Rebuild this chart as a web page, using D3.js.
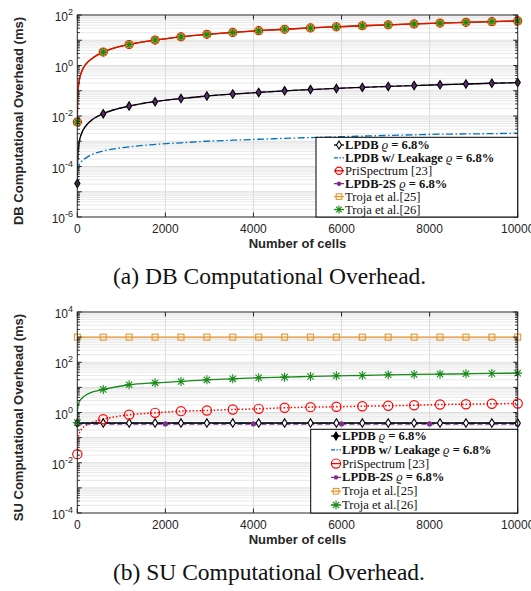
<!DOCTYPE html>
<html>
<head>
<meta charset="utf-8">
<script src="https://d3js.org/d3.v7.min.js"></script>
<style>
  body { margin: 0; background: #fff; }
  svg { display: block; }
  .tick { font-family: "Liberation Sans", Arial, sans-serif; font-size: 12px; fill: #262626; }
  .axis-title { font-family: "Liberation Sans", Arial, sans-serif; font-size: 13px; font-weight: bold; fill: #262626; }
  .caption { font-family: "Liberation Serif", "Times New Roman", serif; font-size: 23.5px; fill: #111; }
  .legend { font-family: "Liberation Serif", "Times New Roman", serif; font-size: 12.6px; fill: #111; }
</style>
</head>
<body>
<div id="chart"></div>
<script>
// x positions of the sampled points (number of cells)
const cells = [1, 5, 15, 40, 100, 200, 350, 589, 1177, 1766, 2354, 2942, 3530, 4119,
  4707, 5295, 5883, 6472, 7060, 7648, 8236, 8825, 9413, 10000];
// cells that carry a marker
const markerCells = [1, 589, 1177, 1766, 2354, 2942, 3530, 4119, 4707, 5295, 5883,
  6472, 7060, 7648, 8236, 8825, 9413, 10000];
const xTicks = [0, 2000, 4000, 6000, 8000, 10000];

// (a) DB computational overhead (ms)
const dbLPDB = [2.1e-5, 1.05e-4, 3.2e-4, 8.4e-4, 2.1e-3, 4.2e-3, 7.4e-3, 0.0124, 0.0247, 0.037,
  0.049, 0.062, 0.074, 0.086, 0.099, 0.111, 0.124, 0.136, 0.148, 0.161, 0.173, 0.185, 0.198, 0.21];
const dbLeakage = [2e-5, 5e-5, 8e-5, 1.1e-4, 1.6e-4, 2.2e-4, 3.1e-4, 4.1e-4, 6.0e-4, 7.5e-4,
  8.7e-4, 1.0e-3, 1.1e-3, 1.2e-3, 1.3e-3, 1.4e-3, 1.5e-3, 1.6e-3, 1.7e-3, 1.8e-3, 1.9e-3, 1.95e-3, 2.0e-3, 2.1e-3];
const dbPriSpectrum = [0.0058, 0.029, 0.087, 0.23, 0.58, 1.16, 2.0, 3.4, 6.8, 10.2, 13.7, 17.1,
  20.5, 23.9, 27.3, 30.7, 34.1, 37.5, 40.9, 44.4, 47.8, 51.2, 54.6, 58];
const dbLPDB2S = dbLPDB.slice();
const dbTroja25 = dbPriSpectrum.slice();
const dbTroja26 = dbPriSpectrum.slice();

// (b) SU computational overhead (ms)
const suLPDB = cells.map(() => 0.38);
const suLeakage = cells.map(() => 0.38);
const suPriSpectrum = [0.022, 0.05, 0.085, 0.14, 0.22, 0.31, 0.41, 0.54, 0.81, 0.97, 1.13, 1.20,
  1.32, 1.40, 1.54, 1.63, 1.69, 1.78, 1.85, 1.95, 2.08, 2.14, 2.22, 2.29];
const suLPDB2S = cells.map(() => 0.35);
const suTroja25 = cells.map(() => 1000);
const suTroja26 = [0.4, 1.1, 1.7, 2.5, 3.6, 5.0, 6.6, 8.3, 12.7, 15.2, 17.2, 20, 21.9, 24.1,
  25.5, 27.2, 28.9, 29.7, 31.7, 32.6, 33.6, 34.7, 35.8, 36.8];
const su2SMarkCells = [1, 2000, 4000, 6000, 8000, 10000];
const su2SMarkValues = [0.35, 0.35, 0.35, 0.35, 0.35, 0.35];

const legendNames = [
  [["LPDB", "b"], [" ϱ", "i"], [" = 6.8%", "b"]],
  [["LPDB w/ Leakage", "b"], [" ϱ", "i"], [" = 6.8%", "b"]],
  [["PriSpectrum [23]", "n"]],
  [["LPDB-2S", "b"], [" ϱ", "i"], [" = 6.8%", "b"]],
  [["Troja et al.[25]", "n"]],
  [["Troja et al.[26]", "n"]]
];

const C = {
  black: "#000000", blue: "#0072bd", red: "#ff0000", purple: "#7e2f8e",
  orange: "#e8972e", green: "#178a17", axis: "#262626"
};

const W = 531, H = 591;
const svg = d3.select("#chart").append("svg").attr("width", W).attr("height", H);

function marker(g, type, x, y, color, fill, size) {
  if (type === "diamond") {
    g.append("path")
      .attr("d", `M${x},${y - size}L${x + size * 0.62},${y}L${x},${y + size}L${x - size * 0.62},${y}Z`)
      .attr("fill", fill).attr("stroke", color).attr("stroke-width", 1.1);
  } else if (type === "circle") {
    g.append("circle").attr("cx", x).attr("cy", y).attr("r", size)
      .attr("fill", fill).attr("stroke", color).attr("stroke-width", 1.2);
  } else if (type === "square") {
    g.append("rect").attr("x", x - size).attr("y", y - size)
      .attr("width", size * 2).attr("height", size * 2)
      .attr("fill", fill).attr("stroke", color).attr("stroke-width", 1.1);
  } else if (type === "star") {
    const s = size, d = size * 0.707;
    g.append("path")
      .attr("d", `M${x - s},${y}H${x + s}M${x},${y - s}V${y + s}M${x - d},${y - d}L${x + d},${y + d}M${x - d},${y + d}L${x + d},${y - d}`)
      .attr("stroke", color).attr("stroke-width", 1.1).attr("fill", "none");
  } else if (type === "dot") {
    g.append("circle").attr("cx", x).attr("cy", y).attr("r", size).attr("fill", color);
  }
}

function panel(cfg) {
  const x = d3.scaleLinear().domain([0, 10000]).range([77.3, 517.7]);
  const y = d3.scaleLog().domain(cfg.domain).range([cfg.bottom, cfg.top]);
  const g = svg.append("g");
  const id = "clip" + cfg.key;
  svg.append("clipPath").attr("id", id).append("rect")
    .attr("x", 77.3).attr("y", cfg.top).attr("width", 440.4).attr("height", cfg.bottom - cfg.top);

  // grid
  const e0 = Math.log10(cfg.domain[0]), e1 = Math.log10(cfg.domain[1]);
  const grid = g.append("g");
  for (let e = e0; e < e1; e++) {
    for (let m = 2; m <= 9; m++) {
      grid.append("line").attr("x1", 77.3).attr("x2", 517.7)
        .attr("y1", y(m * Math.pow(10, e))).attr("y2", y(m * Math.pow(10, e)))
        .attr("stroke", "#e9e9e9").attr("stroke-width", 1);
    }
  }
  for (let e = e0 + 1; e < e1; e++) {
    grid.append("line").attr("x1", 77.3).attr("x2", 517.7)
      .attr("y1", y(Math.pow(10, e))).attr("y2", y(Math.pow(10, e)))
      .attr("stroke", "#dedede").attr("stroke-width", 1);
  }
  xTicks.slice(1, -1).forEach(t => {
    grid.append("line").attr("x1", x(t)).attr("x2", x(t))
      .attr("y1", cfg.top).attr("y2", cfg.bottom)
      .attr("stroke", "#dcdcdc").attr("stroke-width", 1);
  });

  // lines
  const plot = g.append("g").attr("clip-path", `url(#${id})`);
  const line = d3.line().x((d, i) => x(cells[i])).y(d => y(d)).curve(d3.curveMonotoneX);
  cfg.series.forEach(s => {
    plot.append("path").datum(s.values).attr("d", line)
      .attr("fill", "none").attr("stroke", s.color).attr("stroke-width", s.width || 1.3)
      .attr("stroke-dasharray", s.dash || null);
  });
  // markers
  const mg = g.append("g");
  cfg.markers.forEach(m => {
    const mc = m.cells || markerCells;
    mc.forEach((c, j) => {
      const v = m.cells ? m.values[j] : m.values[cells.indexOf(c)];
      marker(mg, m.type, x(c), y(v), m.color, m.fill || "none", m.size);
    });
  });

  // box and ticks
  const ax = g.append("g").attr("stroke", C.axis).attr("fill", "none");
  ax.append("rect").attr("x", 77.3).attr("y", cfg.top).attr("width", 440.4)
    .attr("height", cfg.bottom - cfg.top).attr("stroke-width", 1);
  xTicks.forEach(t => {
    ax.append("line").attr("x1", x(t)).attr("x2", x(t)).attr("y1", cfg.bottom).attr("y2", cfg.bottom - 4.5);
    ax.append("line").attr("x1", x(t)).attr("x2", x(t)).attr("y1", cfg.top).attr("y2", cfg.top + 4.5);
  });
  for (let e = e0; e <= e1; e++) {
    const yy = y(Math.pow(10, e));
    ax.append("line").attr("x1", 77.3).attr("x2", 81.8).attr("y1", yy).attr("y2", yy);
    ax.append("line").attr("x1", 517.7).attr("x2", 513.2).attr("y1", yy).attr("y2", yy);
    if (e < e1) {
      for (let m = 2; m <= 9; m++) {
        const ym = y(m * Math.pow(10, e));
        ax.append("line").attr("x1", 77.3).attr("x2", 79.8).attr("y1", ym).attr("y2", ym);
        ax.append("line").attr("x1", 517.7).attr("x2", 515.2).attr("y1", ym).attr("y2", ym);
      }
    }
  }

  // tick labels
  xTicks.forEach(t => {
    g.append("text").attr("class", "tick").attr("x", x(t)).attr("y", cfg.bottom + 16)
      .attr("text-anchor", "middle").text(t);
  });
  cfg.yTicks.forEach(e => {
    const t = g.append("text").attr("class", "tick").attr("x", 73)
      .attr("y", y(Math.pow(10, e)) + 6).attr("text-anchor", "end");
    t.append("tspan").text("10");
    t.append("tspan").attr("dy", -6).attr("font-size", 9).text(e);
  });

  g.append("text").attr("class", "axis-title").attr("x", 297.5).attr("y", cfg.bottom + 30.5)
    .attr("text-anchor", "middle").text("Number of cells");
  g.append("text").attr("class", "axis-title")
    .attr("transform", `translate(22.5,${(cfg.top + cfg.bottom) / 2 + 5}) rotate(-90)`)
    .attr("text-anchor", "middle").text(cfg.ylabel);
  g.append("text").attr("class", "caption").attr("x", 113).attr("y", cfg.bottom + 67)
    .text(cfg.caption);

  // legend
  const L = cfg.legend;
  const lg = g.append("g");
  lg.append("rect").attr("x", L.x0).attr("y", L.y0).attr("width", L.x1 - L.x0)
    .attr("height", L.y1 - L.y0).attr("fill", "#fff").attr("stroke", "#000").attr("stroke-width", 1);
  cfg.legendItems.forEach((it, i) => {
    const yy = L.row0 + i * L.step;
    lg.append("line").attr("x1", L.mx - 5).attr("x2", L.mx + 5).attr("y1", yy).attr("y2", yy)
      .attr("stroke", it.color).attr("stroke-width", 1.3).attr("stroke-dasharray", it.dash || null);
    if (it.type) marker(lg, it.type, L.mx, yy, it.mcolor || it.color, it.fill || "none", it.size);
    const t = lg.append("text").attr("class", "legend").attr("x", L.tx).attr("y", yy + 4);
    legendNames[i].forEach(p => {
      t.append("tspan").text(p[0])
        .attr("font-weight", p[1] === "b" ? "bold" : null)
        .attr("font-style", p[1] === "i" ? "italic" : null);
    });
  });
}

panel({
  key: "a", domain: [1e-6, 1e2], top: 15, bottom: 217,
  yTicks: [2, 0, -2, -4, -6],
  ylabel: "DB Computational Overhead (ms)",
  caption: "(a) DB Computational Overhead.",
  series: [
    { values: dbLeakage, color: C.blue, dash: "7,2.5,1.5,2.5" },
    { values: dbLPDB2S, color: C.purple, dash: "5,3" },
    { values: dbLPDB, color: C.black },
    { values: dbTroja25, color: C.orange },
    { values: dbTroja26, color: C.green },
    { values: dbPriSpectrum, color: C.red }
  ],
  markers: [
    { values: dbLPDB, type: "diamond", color: C.black, fill: "#5a2b70", size: 4.2 },
    { values: dbPriSpectrum, type: "circle", color: C.red, fill: "#e8972e", size: 4 },
    { values: dbTroja25, type: "square", color: C.orange, size: 3 },
    { values: dbTroja26, type: "star", color: C.green, size: 4 }
  ],
  legend: { x0: 316, y0: 137.3, x1: 517.7, y1: 217, row0: 145, step: 12.9, mx: 339, tx: 345 },
  legendItems: [
    { color: C.black, type: "diamond", fill: "#fff", size: 4 },
    { color: C.blue, dash: "4,1.5,1.5,1.5" },
    { color: C.red, type: "circle", size: 3.6 },
    { color: C.purple, dash: "4,2", type: "dot", size: 2.2 },
    { color: C.orange, type: "square", size: 2.8 },
    { color: C.green, type: "star", size: 4 }
  ]
});

panel({
  key: "b", domain: [1e-4, 1e4], top: 312, bottom: 513,
  yTicks: [4, 2, 0, -2, -4],
  ylabel: "SU Computational Overhead (ms)",
  caption: "(b) SU Computational Overhead.",
  series: [
    { values: suTroja25, color: C.orange },
    { values: suTroja26, color: C.green },
    { values: suPriSpectrum, color: C.red, dash: "1.5,2", width: 1.5 },
    { values: suLeakage, color: C.blue, dash: "7,2.5,1.5,2.5" },
    { values: suLPDB2S, color: C.purple, dash: "5,3", width: 1.5 },
    { values: suLPDB, color: C.black, width: 1.5 }
  ],
  markers: [
    { cells: su2SMarkCells, values: su2SMarkValues, type: "dot", color: C.purple, size: 2.6 },
    { values: suLPDB, type: "diamond", color: C.black, fill: "#fff", size: 4.2 },
    { values: suTroja25, type: "square", color: C.orange, size: 3 },
    { values: suTroja26, type: "star", color: C.green, size: 4.5 },
    { values: suPriSpectrum, type: "circle", color: C.red, size: 4.6 }
  ],
  legend: { x0: 310.7, y0: 429.3, x1: 517.7, y1: 513, row0: 436, step: 13.8, mx: 336, tx: 342 },
  legendItems: [
    { color: C.black, type: "diamond", fill: "#000", size: 4 },
    { color: C.blue, dash: "4,1.5,1.5,1.5" },
    { color: C.red, type: "circle", size: 4.6 },
    { color: C.purple, dash: "4,2", type: "dot", size: 2.2 },
    { color: C.orange, type: "square", size: 2.8 },
    { color: C.green, type: "star", size: 4.5 }
  ]
});
</script>
</body>
</html>
